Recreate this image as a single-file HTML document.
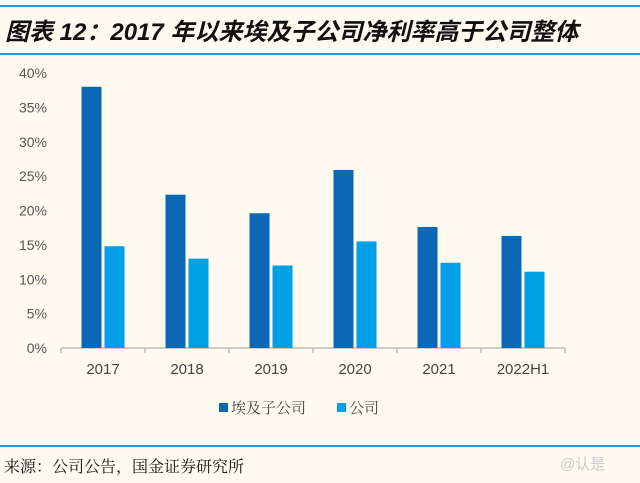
<!DOCTYPE html>
<html><head><meta charset="utf-8"><style>
body{margin:0;background:#fffaf0;}
#wrap{position:relative;width:640px;height:483px;background:#fffaf0;overflow:hidden;font-family:"Liberation Sans","Noto Sans CJK SC",sans-serif;}
</style></head><body>
<div id="wrap">
<svg width="640" height="483" xmlns="http://www.w3.org/2000/svg">
<line x1="0" y1="6" x2="640" y2="6" stroke="#1a9ad6" stroke-width="2"/>
<text x="5" y="40" font-size="24" font-weight="bold" font-style="italic" fill="#111" font-family="'Liberation Sans','Noto Sans CJK SC',sans-serif">图表 12：2017 年以来埃及子公司净利率高于公司整体</text>
<line x1="0" y1="54" x2="640" y2="54" stroke="#1a9ad6" stroke-width="2"/>
<g id="axes"></g>
<g id="bars"></g>
<rect x="219" y="403" width="9" height="9" fill="#0b68b4"/>
<text x="231" y="413" font-size="15" fill="#444" font-family="'Noto Serif CJK SC',serif">埃及子公司</text>
<rect x="337" y="403" width="9" height="9" fill="#00a0e6"/>
<text x="349" y="413" font-size="15" fill="#444" font-family="'Noto Serif CJK SC',serif">公司</text>
<line x1="0" y1="446" x2="640" y2="446" stroke="#1a9ad6" stroke-width="2"/>
<text x="4" y="472" font-size="16" fill="#111" font-family="'Noto Serif CJK SC',serif">来源：公司公告，国金证券研究所</text>
<text x="560" y="469" font-size="15" fill="#ccc">@认是</text>
</svg>
</div>
<script>
const categories=["2017","2018","2019","2020","2021","2022H1"];
const egyptValues=[38.0,22.3,19.6,25.9,17.6,16.3];
const companyValues=[14.8,13.0,12.0,15.5,12.4,11.1];
const yTicks=[0,5,10,15,20,25,30,35,40];
const NS="http://www.w3.org/2000/svg";
const x0=61,x1=565,y0=348,yTop=73,yMax=40;
const band=(x1-x0)/categories.length;
function yScale(v){return y0-(v/yMax)*(y0-yTop);}
function xBand(i){return x0+i*band;}
function mk(tag,attrs,parent){const e=document.createElementNS(NS,tag);for(const k in attrs)e.setAttribute(k,attrs[k]);parent.appendChild(e);return e;}
const axes=document.getElementById('axes'),bars=document.getElementById('bars');
yTicks.forEach(t=>{
 const tx=mk('text',{x:47,y:yScale(t)+5,'font-size':14,fill:'#555','text-anchor':'end'},axes);
 tx.textContent=t+'%';
 
 
});
const ax=mk('line',{x1:x0,y1:y0,x2:x1,y2:y0,stroke:'#bbb','stroke-width':1.5},axes);


for(let i=0;i<=categories.length;i++){
 const tk=mk('line',{x1:xBand(i),y1:y0,x2:xBand(i),y2:y0+5,stroke:'#bbb','stroke-width':1.5},axes);
 
 
}
categories.forEach((c,i)=>{
 const cx=xBand(i)+band/2;
 const tx=mk('text',{x:cx,y:y0+26,'font-size':15,fill:'#444','text-anchor':'middle'},axes);
 tx.textContent=c;
 
 
 const w=20,g=3;
 const b1=mk('rect',{x:cx-g/2-w,y:yScale(egyptValues[i]),width:w,height:y0-yScale(egyptValues[i]),fill:'#0b68b4'},bars);
 
 
 const b2=mk('rect',{x:cx+g/2,y:yScale(companyValues[i]),width:w,height:y0-yScale(companyValues[i]),fill:'#00a0e6'},bars);
 
 
});
</script>
</body></html>
